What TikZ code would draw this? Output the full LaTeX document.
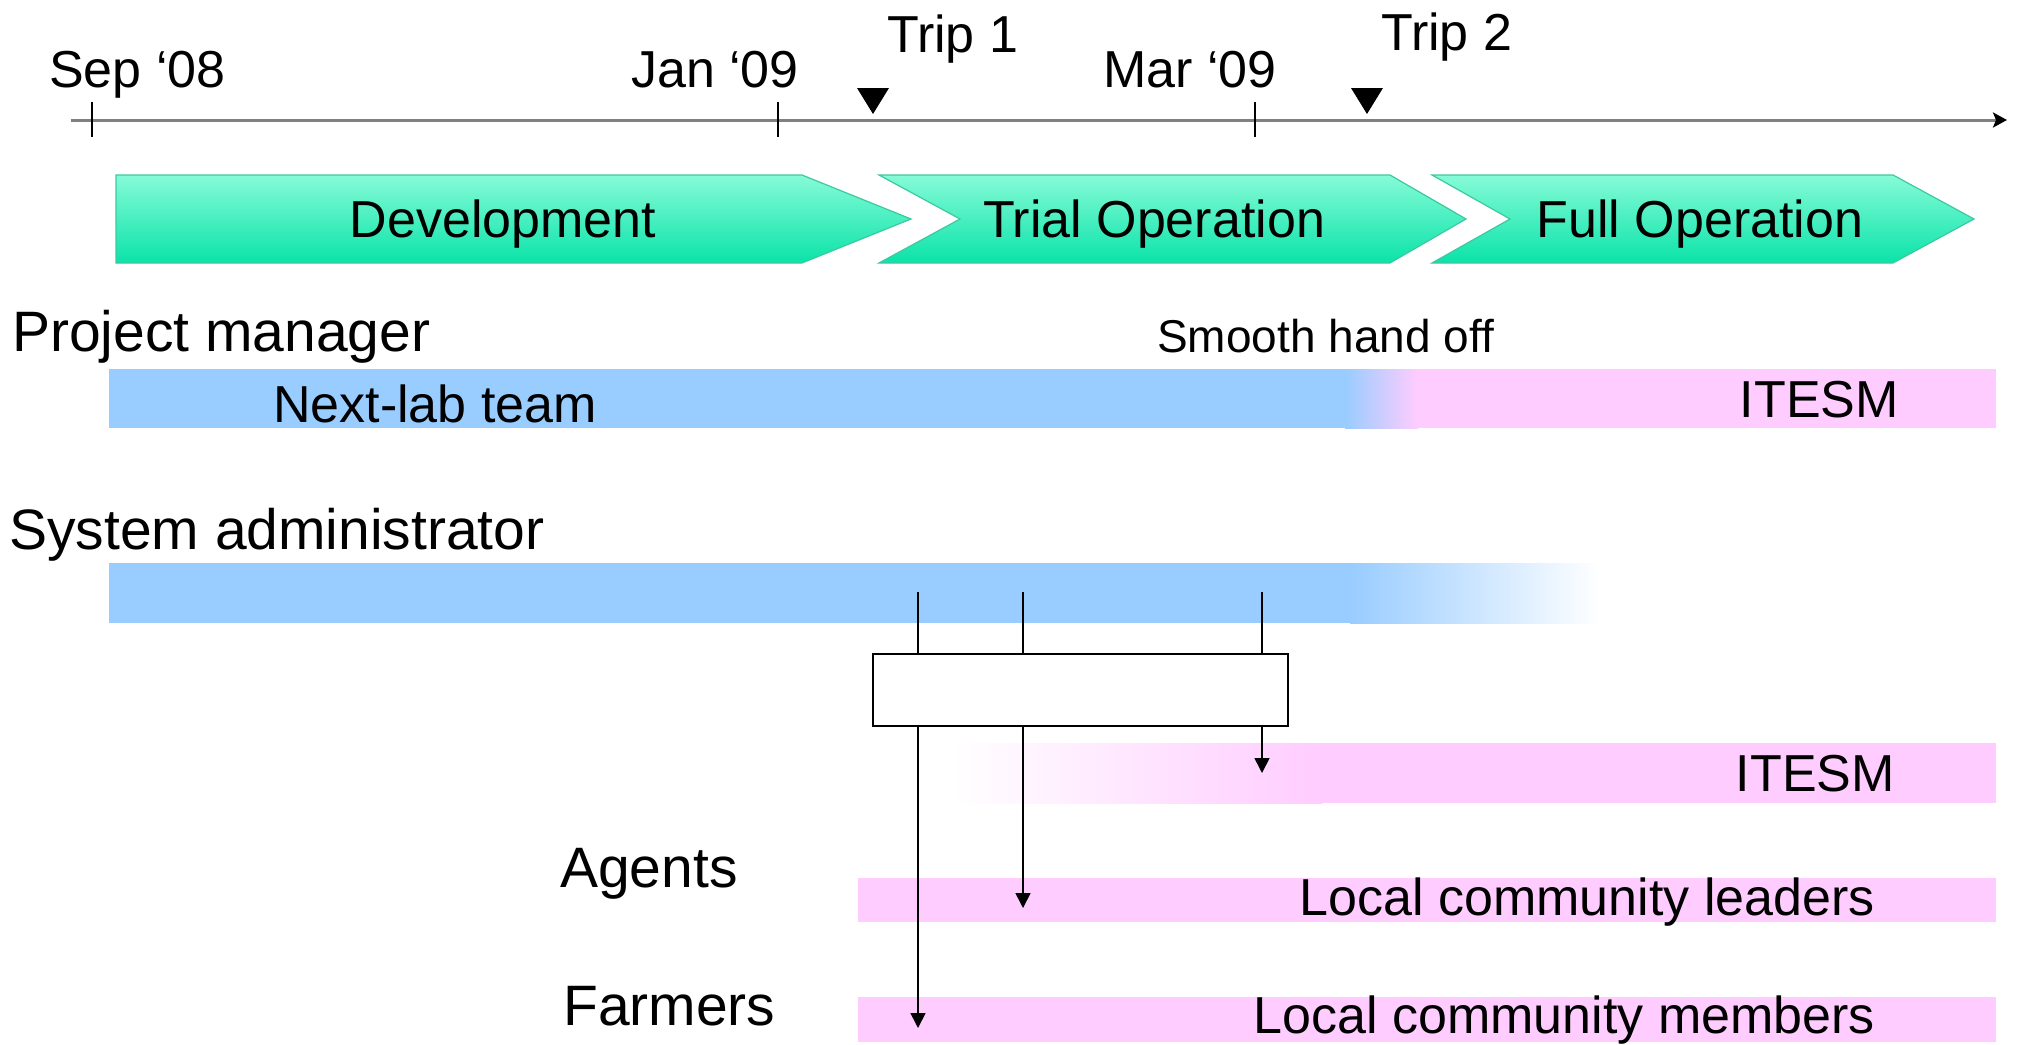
\documentclass[tikz,border=0pt]{standalone}
\usepackage{fontspec}
\setmainfont{Liberation Sans}
\usetikzlibrary{arrows.meta}
\definecolor{barblue}{HTML}{99CCFF}
\definecolor{barpink}{HTML}{FFCCFF}
\definecolor{chevtop}{HTML}{86FBD8}
\definecolor{chevbot}{HTML}{0AE3A8}
\definecolor{chevline}{HTML}{3CC9A0}
\definecolor{axisgray}{HTML}{808080}
\begin{document}
\begin{tikzpicture}[x=1pt,y=-1pt,
  lbl/.style={inner sep=0pt, font=\fontsize{52}{60}\selectfont},
  biglbl/.style={inner sep=0pt, font=\fontsize{57}{66}\selectfont},
  smalllbl/.style={inner sep=0pt, font=\fontsize{46}{54}\selectfont},
  chev/.style={top color=chevtop, bottom color=chevbot, draw=chevline, line width=1.2pt},
  tickmark/.style={line width=1.6pt},
  link/.style={line width=1.6pt},
  flow/.style={line width=1.6pt, -{Triangle[length=15pt,width=15pt]}},
]
\useasboundingbox (0,0) rectangle (2018,1044);

% ---- time axis ----
\coordinate (ax0) at (71,120);
\coordinate (ax1) at (2007,120);
\draw[axisgray, line width=3pt, -{Stealth[black,length=14pt,width=15pt,inset=3pt]}] (ax0) -- (ax1);
\draw[tickmark] (92,102) -- (92,137);
\draw[tickmark] (778,102) -- (778,137);
\draw[tickmark] (1255,102) -- (1255,137);
\fill (857,88) -- (889,88) -- (873,114) -- cycle;
\fill (1351,88) -- (1383,88) -- (1367,114) -- cycle;

\node[lbl, anchor=base west] (sep) at (49,87) {Sep ‘08};
\node[lbl, anchor=base west] (jan) at (631,87) {Jan ‘09};
\node[lbl, anchor=base west] (mar) at (1103,87) {Mar ‘09};
\node[lbl, anchor=base west] (trip1) at (887,52) {Trip 1};
\node[lbl, anchor=base west] (trip2) at (1381,50) {Trip 2};

% ---- phase chevrons ----
\path[chev] (116,175) -- (802,175) -- (911,219) -- (802,263) -- (116,263) -- cycle;
\path[chev] (879,175) -- (1390,175) -- (1466,219) -- (1390,263) -- (879,263) -- (960,219) -- cycle;
\path[chev] (1432,175) -- (1893,175) -- (1974,219) -- (1893,263) -- (1432,263) -- (1510,219) -- cycle;
\node[lbl, anchor=base] (dev) at (503,237) {Development};
\node[lbl, anchor=base] (trial) at (1154,237) {Trial Operation};
\node[lbl, anchor=base] (full) at (1700,237) {Full Operation};

% ---- project manager ----
\node[biglbl, anchor=base west] (pm) at (12,351) {Project manager};
\node[smalllbl, anchor=base west] (smooth) at (1157,352) {Smooth hand off};
\fill[barblue] (109,369) rectangle (1347,428);
\shade[left color=barblue, right color=barpink] (1345,369) rectangle (1418,428);
\fill[barpink] (1416,369) rectangle (1996,428);
\node[lbl, anchor=base west] (nextlab) at (273,422) {Next-lab team};
\node[lbl, anchor=base east] (itesmA) at (1899,417) {ITESM};

% ---- system administrator ----
\node[biglbl, anchor=base west] (sa) at (9,549) {System administrator};
\fill[barblue] (109,563) rectangle (1352,623);
\shade[left color=barblue, right color=white] (1350,563) rectangle (1600,623);

% ---- lower bars ----
\shade[left color=white, right color=barpink] (953,743) rectangle (1322,803);
\fill[barpink] (1320,743) rectangle (1996,803);
\node[lbl, anchor=base east] (itesmB) at (1895,791) {ITESM};

\fill[barpink] (858,878) rectangle (1996,922);
\fill[barpink] (858,997) rectangle (1996,1042);
\node[biglbl, anchor=base west] (agents) at (560,887) {Agents};
\node[biglbl, anchor=base west] (farmers) at (563,1025) {Farmers};
\node[lbl, anchor=base east] (leaders) at (1875,915) {Local community leaders};
\node[lbl, anchor=base east] (members) at (1875,1033) {Local community members};

% ---- hand-over box and flows ----
\node[draw, line width=2pt, inner sep=0pt, minimum width=415pt, minimum height=72pt,
      anchor=north west, fill=white] (hub) at (872,653) {};
\coordinate (s1) at (918,592);
\coordinate (s2) at (1023,592);
\coordinate (s3) at (1262,592);
\coordinate (e1) at (918,1028);
\coordinate (e2) at (1023,908);
\coordinate (e3) at (1262,773);
\draw[link] (s1) -- (s1 |- hub.north);
\draw[link] (s2) -- (s2 |- hub.north);
\draw[link] (s3) -- (s3 |- hub.north);
\draw[flow] (s1 |- hub.south) -- (e1);
\draw[flow] (s2 |- hub.south) -- (e2);
\draw[flow] (s3 |- hub.south) -- (e3);
\end{tikzpicture}
\end{document}
